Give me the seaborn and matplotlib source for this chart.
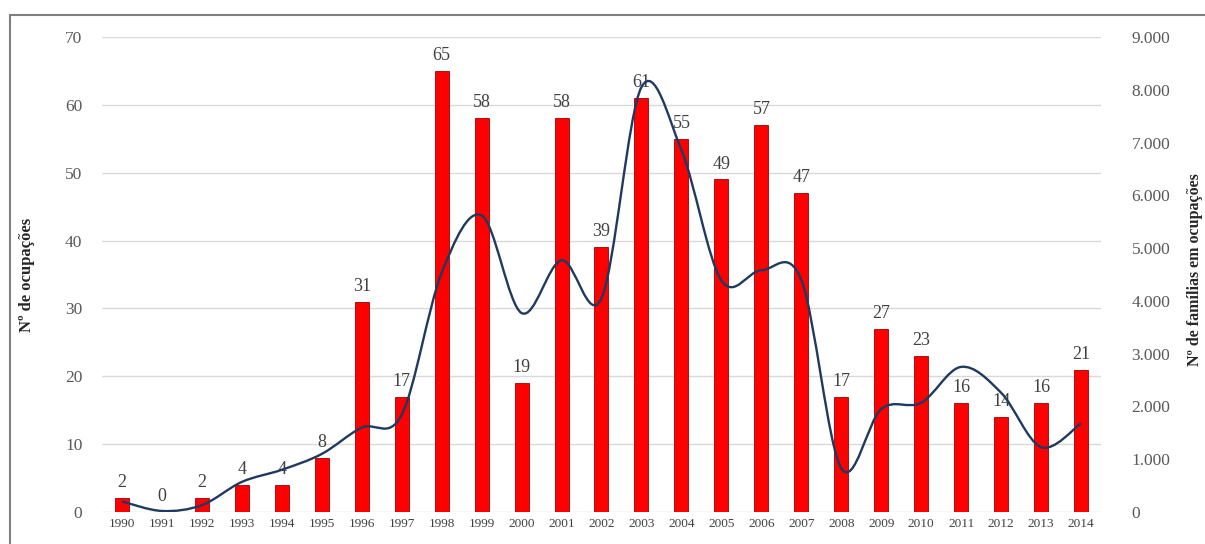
import numpy as np
import pandas as pd
import matplotlib
matplotlib.use("Agg")
import matplotlib.pyplot as plt
from matplotlib.path import Path
from matplotlib.patches import PathPatch
from matplotlib.lines import Line2D
from matplotlib.ticker import FuncFormatter, MultipleLocator
import seaborn as sns

# ===============================
# Dados
# ===============================
anos = [str(a) for a in range(1990, 2015)]
ocupacoes = [2, 0, 2, 4, 4, 8, 31, 17, 65, 58, 19, 58, 39, 61, 55, 49, 57, 47,
             17, 27, 23, 16, 14, 16, 21]
familias = [200, 20, 130, 570, 800, 1100, 1600, 1840, 4530, 5620, 3770, 4770,
            4050, 8050, 6860, 4390, 4580, 4400, 830, 1950, 2070, 2750, 2260,
            1230, 1680]

df = pd.DataFrame({"ano": anos, "ocupacoes": ocupacoes, "familias": familias})

# ===============================
# Estilo
# ===============================
sns.set_style("white")
plt.rcParams["font.family"] = ["Liberation Serif", "DejaVu Serif"]

fig = plt.figure(figsize=(12.05, 5.44), dpi=100)
ax = fig.add_axes([0.0846, 0.0588, 0.8291, 0.8732])

# barras
sns.barplot(data=df, x="ano", y="ocupacoes", color="#FF0000", width=0.35,
            edgecolor="#A00000", linewidth=0.6, saturation=1, ax=ax)

ax.set_ylim(0, 70)
ax.yaxis.set_major_locator(MultipleLocator(10))
ax.grid(axis="y", color="#D9D9D9", linewidth=1)
ax.set_axisbelow(True)
for s in ax.spines.values():
    s.set_visible(False)
ax.tick_params(axis="y", length=0, pad=14, labelsize=12.5, labelcolor="#595959")
ax.tick_params(axis="x", length=0, pad=4, labelsize=9.5, labelcolor="#404040")
ax.set_xlabel("")
ax.set_ylabel("Nº de ocupações", fontsize=12, fontweight="bold", color="#262626")
ax.yaxis.set_label_coords(-0.067, 0.5)

# rótulos de valores
for i, v in enumerate(ocupacoes):
    ax.annotate(str(v), (i, v), xytext=(0, 5), textcoords="offset points",
                ha="center", va="bottom", fontsize=13, color="#404040")

# ===============================
# Linha suavizada (eixo secundário)
# ===============================
ax2 = ax.twinx()
ax2.set_ylim(0, 9000)
ax2.yaxis.set_major_locator(MultipleLocator(1000))
ax2.yaxis.set_major_formatter(FuncFormatter(lambda v, p: f"{int(v):,}".replace(",", ".")))
for s in ax2.spines.values():
    s.set_visible(False)
ax2.tick_params(axis="y", length=0, pad=22, labelsize=12.5, labelcolor="#595959")
ax2.set_ylabel("Nº de famílias em ocupações", fontsize=11.5, fontweight="bold",
               color="#262626", rotation=90)
ax2.yaxis.set_label_coords(1.086, 0.51)

xs = np.arange(len(familias), dtype=float)
ys = np.array(familias, dtype=float)
pts = np.column_stack([xs, ys])
verts = [pts[0]]
codes = [Path.MOVETO]
n = len(pts)
for i in range(n - 1):
    p0 = pts[max(i - 1, 0)]
    p1 = pts[i]
    p2 = pts[i + 1]
    p3 = pts[min(i + 2, n - 1)]
    c1 = p1 + (p2 - p0) / 6
    c2 = p2 - (p3 - p1) / 6
    verts += [c1, c2, p2]
    codes += [Path.CURVE4] * 3
curva = PathPatch(Path(verts, codes), facecolor="none", edgecolor="#1F3A5F",
                  linewidth=1.7, transform=ax2.transData)
ax2.add_patch(curva)
ax.set_xlim(-0.5, len(anos) - 0.5)

# moldura
fig.add_artist(Line2D([10 / 1205, 10 / 1205], [0, 1 - 15 / 544],
                      transform=fig.transFigure, color="#7F7F7F", linewidth=1.5))
fig.add_artist(Line2D([10 / 1205, 1], [1 - 15 / 544, 1 - 15 / 544],
                      transform=fig.transFigure, color="#7F7F7F", linewidth=1.5))

plt.savefig("out.png", dpi=100)
plt.close()
